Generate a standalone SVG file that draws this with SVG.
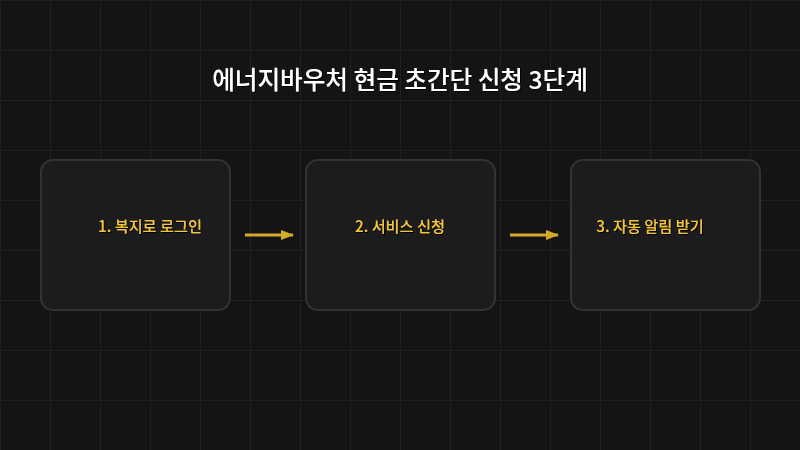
<svg xmlns="http://www.w3.org/2000/svg" width="800" height="450" viewBox="0 0 800 450">
<defs>
<pattern id="grid" width="50" height="50" patternUnits="userSpaceOnUse">
<path d="M0 0H50M0 0V50" fill="none" stroke="#242426" stroke-width="1.5"/>
</pattern>
<filter id="sh" x="-10%" y="-30%" width="120%" height="160%">
<feDropShadow dx="1" dy="1" stdDeviation="0.6" flood-color="#000" flood-opacity="0.9"/>
</filter>
<marker id="ah" markerWidth="13" markerHeight="10" refX="12" refY="5" orient="auto" markerUnits="userSpaceOnUse">
<path d="M0 0L13 5L0 10Z" fill="#d4aa2c"/>
</marker>
</defs>
<style>
.box{fill:#1c1c1e;stroke:#333335;stroke-width:2}
.lbl{font-family:"Noto Sans CJK KR","Noto Sans",sans-serif;font-size:15.2px;font-weight:500;fill:#f2c53d;text-anchor:middle;filter:url(#sh)}
.title{font-family:"Noto Sans CJK KR","Noto Sans",sans-serif;font-size:24.6px;font-weight:500;fill:#ffffff;text-anchor:middle;filter:url(#sh)}
.conn{stroke:#d4aa2c;stroke-width:3;fill:none;marker-end:url(#ah)}
</style>
<rect width="800" height="450" fill="#141416"/>
<rect width="800" height="450" fill="url(#grid)"/>
<text class="title" x="400" y="89">에너지바우처 현금 초간단 신청 3단계</text>
<g id="connectors">
<line class="conn" x1="245" y1="235" x2="293" y2="235"/>
<line class="conn" x1="510" y1="235" x2="558" y2="235"/>
</g>
<g id="step1">
<rect class="box" x="41" y="160" width="189" height="150" rx="12"/>
<text class="lbl" x="150" y="232">1. 복지로 로그인</text>
</g>
<g id="step2">
<rect class="box" x="306" y="160" width="189" height="150" rx="12"/>
<text class="lbl" x="400" y="232">2. 서비스 신청</text>
</g>
<g id="step3">
<rect class="box" x="571" y="160" width="189" height="150" rx="12"/>
<text class="lbl" x="650" y="232">3. 자동 알림 받기</text>
</g>
</svg>
